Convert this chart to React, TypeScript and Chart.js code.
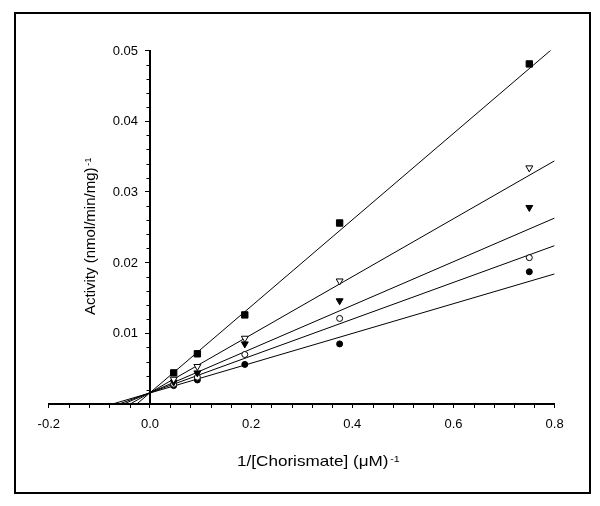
import React, { useEffect, useRef } from 'react';
import { Chart, registerables } from 'chart.js';

Chart.register(...registerables);

// 1/[Chorismate] (µM)^-1
const invChorismate = [0.046875, 0.09375, 0.1875, 0.375, 0.75];

// Activity (nmol/min/mg)^-1 for each series
const filledSquare = [0.0044, 0.0071, 0.0126, 0.0256, 0.0481];
const openTriangle = [0.0035, 0.0053, 0.0093, 0.0174, 0.0334];
const filledTriangle = [0.0031, 0.0044, 0.0085, 0.0146, 0.0278];
const openCircle = [0.0028, 0.0038, 0.0070, 0.0121, 0.0207];
const filledCircle = [0.0026, 0.0034, 0.0056, 0.0085, 0.0187];

// Fitted lines: start on the x axis, end at x = 0.8
const fitStartX = [-0.026, -0.039, -0.052, -0.061, -0.074];
const fitEndX = [0.8, 0.8, 0.8, 0.8, 0.8];
const fitEndY = [0.0505, 0.0344, 0.0263, 0.0224, 0.0184];

const xTickStep = 0.2;
const yTickStep = 0.01;
const xMinorStep = 0.04;
const yMinorStep = 0.002;

const xTitle = '1/[Chorismate] (\u03BCM)';
const yTitle = 'Activity (nmol/min/mg)';
const superscript = '-1';

const FONT = '"Liberation Sans", Arial, Helvetica, sans-serif';

const decorPlugin = {
  id: 'decor',
  beforeDraw(chart: any) {
    const ctx = chart.ctx;
    ctx.save();
    ctx.fillStyle = '#ffffff';
    ctx.fillRect(0, 0, chart.width, chart.height);
    ctx.strokeStyle = '#000000';
    ctx.lineWidth = 2;
    ctx.strokeRect(15, 13, 575, 480);
    ctx.restore();
  },
  afterDraw(chart: any) {
    const ctx = chart.ctx;
    const xs = chart.scales.x;
    const ys = chart.scales.y;
    ctx.save();
    ctx.strokeStyle = '#000000';
    ctx.lineWidth = 1;
    // minor ticks on y axis
    const x0 = Math.round(xs.getPixelForValue(0));
    for (let i = 1; i * yMinorStep < ys.max - 1e-9; i++) {
      const v = i * yMinorStep;
      if (i % 5 === 0) continue;
      const py = Math.round(ys.getPixelForValue(v)) + 0.5;
      ctx.beginPath();
      ctx.moveTo(x0 - 1, py);
      ctx.lineTo(x0 - 3.5, py);
      ctx.stroke();
    }
    // minor ticks on x axis
    const yAxis = Math.round(ys.getPixelForValue(0));
    for (let i = 1; xs.min + i * xMinorStep < xs.max - 1e-9; i++) {
      if (i % 5 === 0) continue;
      const v = xs.min + i * xMinorStep;
      const px = Math.round(xs.getPixelForValue(v)) + 0.5;
      ctx.beginPath();
      ctx.moveTo(px, yAxis + 1);
      ctx.lineTo(px, yAxis + 4);
      ctx.stroke();
    }

    ctx.fillStyle = '#000000';

    // y tick labels, to the left of the axis drawn at x = 0
    ctx.font = '13px ' + FONT;
    ctx.textAlign = 'right';
    ctx.textBaseline = 'middle';
    for (const t of ys.ticks) {
      if (Math.abs(t.value) < 1e-9) continue;
      ctx.fillText(Number(t.value).toFixed(2), x0 - 12, ys.getPixelForValue(t.value) + 0.5);
    }

    // axis titles
    ctx.textAlign = 'left';
    ctx.textBaseline = 'alphabetic';

    ctx.save();
    ctx.translate(237, 466);
    ctx.scale(1.18, 1);
    ctx.font = '14.5px ' + FONT;
    ctx.fillText(xTitle, 0, 0);
    const wx = ctx.measureText(xTitle).width;
    ctx.font = '9px ' + FONT;
    ctx.fillText(superscript, wx + 1.5, -4.5);
    ctx.restore();

    ctx.save();
    ctx.translate(95, 315);
    ctx.rotate(-Math.PI / 2);
    ctx.font = '15px ' + FONT;
    ctx.fillText(yTitle, 0, 0);
    const wy = ctx.measureText(yTitle).width;
    ctx.font = '9.5px ' + FONT;
    ctx.fillText(superscript, wy + 1.5, -4.5);
    ctx.restore();

    ctx.restore();
  },
};

function pts(ys: number[]) {
  return invChorismate.map((x, i) => ({ x, y: ys[i] }));
}

export default function App() {
  const canvasRef = useRef<HTMLCanvasElement | null>(null);

  useEffect(() => {
    const canvas = canvasRef.current;
    if (!canvas) return;

    const lineSets = fitStartX.map((sx, i) => ({
      type: 'line' as const,
      data: [
        { x: sx, y: 0 },
        { x: fitEndX[i], y: fitEndY[i] },
      ],
      borderColor: '#000000',
      borderWidth: 1,
      pointRadius: 0,
      showLine: true,
      fill: false,
      order: 2,
    }));

    const markerBase = { borderColor: '#000000', borderWidth: 1, showLine: false, order: 1 };
    const pointSets = [
      { ...markerBase, data: pts(filledSquare), pointStyle: 'rect', pointRadius: 4.5, backgroundColor: '#000000' },
      { ...markerBase, data: pts(openTriangle), pointStyle: 'triangle', rotation: 180, pointRotation: 180, pointRadius: 4, backgroundColor: '#ffffff' },
      { ...markerBase, data: pts(filledTriangle), pointStyle: 'triangle', rotation: 180, pointRotation: 180, pointRadius: 4, backgroundColor: '#000000' },
      { ...markerBase, data: pts(openCircle), pointStyle: 'circle', pointRadius: 3, backgroundColor: '#ffffff' },
      { ...markerBase, data: pts(filledCircle), pointStyle: 'circle', pointRadius: 3, backgroundColor: '#000000' },
    ];

    const chart = new Chart(canvas, {
      type: 'scatter',
      data: { datasets: [...lineSets, ...pointSets] as any },
      options: {
        responsive: false,
        animation: false,
        devicePixelRatio: 1,
        layout: { padding: { left: 48.8, right: 45.4, top: 50.5, bottom: 72 } },
        plugins: { legend: { display: false }, tooltip: { enabled: false } },
        elements: { line: { tension: 0 } },
        scales: {
          x: {
            type: 'linear',
            position: 'bottom',
            min: -0.2,
            max: 0.8,
            afterFit: (s: any) => {
              s.height = 30;
            },
            ticks: {
              stepSize: xTickStep,
              autoSkip: false,
              maxRotation: 0,
              padding: 9,
              color: '#000000',
              font: { family: FONT, size: 13 },
              callback: (v: any) => Number(v).toFixed(1),
            },
            grid: { drawOnChartArea: false, drawTicks: true, tickLength: 4, color: '#000000', tickWidth: 1 },
            border: { display: true, color: '#000000', width: 2 },
          },
          y: {
            type: 'linear',
            position: { x: 0 } as any,
            min: 0,
            max: 0.05,
            ticks: {
              stepSize: yTickStep,
              autoSkip: false,
              display: false,
            },
            grid: { drawOnChartArea: false, drawTicks: true, tickLength: 4, color: '#000000', tickWidth: 1 },
            border: { display: true, color: '#000000', width: 2 },
          },
        },
      } as any,
      plugins: [decorPlugin],
    });

    return () => chart.destroy();
  }, []);

  return (
    <div style={{ position: 'fixed', left: 0, top: 0, width: 600, height: 506, background: '#fff' }}>
      <canvas ref={canvasRef} width={600} height={506} style={{ display: 'block' }} />
    </div>
  );
}
